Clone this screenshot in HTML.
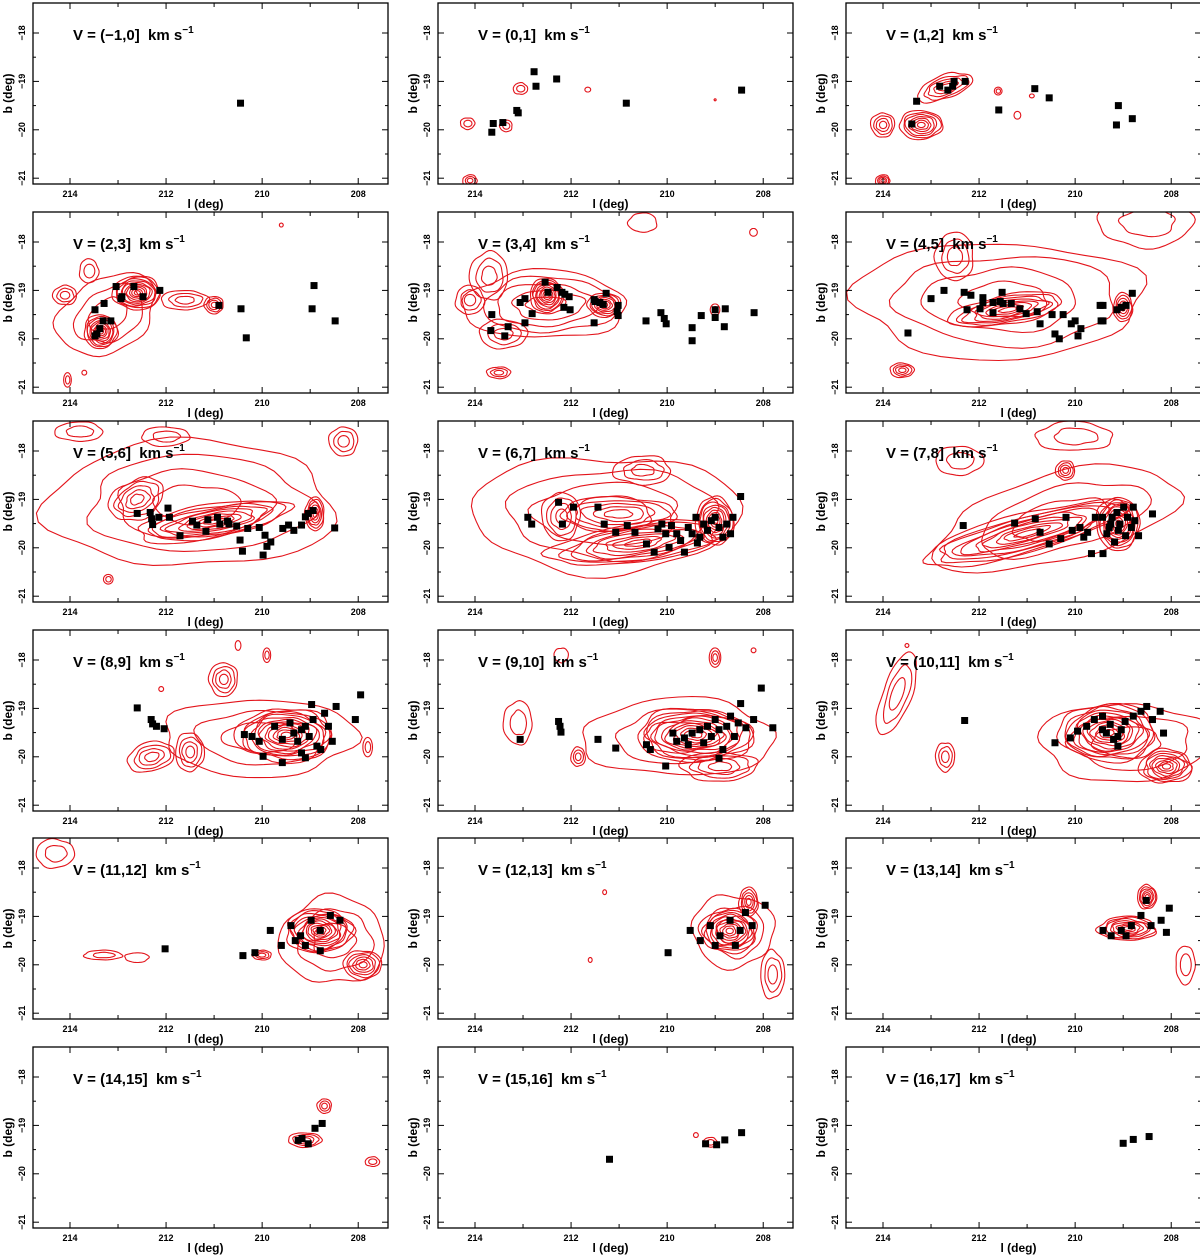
<!DOCTYPE html>
<html><head><meta charset="utf-8">
<style>
html,body{margin:0;padding:0;background:#fff;}
svg{display:block;font-family:"Liberation Sans",Arial,sans-serif;}
</style></head>
<body>
<svg id="chart" width="1200" height="1256" viewBox="0 0 1200 1256" xmlns="http://www.w3.org/2000/svg"></svg>
<script>
// ---- data ----
const titles = ["(\u22121,0]","(0,1]","(1,2]","(2,3]","(3,4]","(4,5]","(5,6]","(6,7]","(7,8]","(8,9]","(9,10]","(10,11]","(11,12]","(12,13]","(13,14]","(14,15]","(15,16]","(16,17]"];
const lTicks = [214,212,210,208];
const bTicks = [-18,-19,-20,-21];
// sources [l,b]
const src0 = [[210.45,-19.45]];
const src1 = [[213.65,-20.05],[213.62,-19.87],[213.42,-19.85],[213.13,-19.6],[213.1,-19.65],[212.77,-18.8],[212.73,-19.1],[212.3,-18.95],[210.85,-19.45],[208.45,-19.18]];
const src2 = [[213.4,-19.88],[213.3,-19.41],[212.82,-19.1],[212.65,-19.18],[212.55,-19.1],[212.52,-19.0],[212.29,-19.0],[211.59,-19.59],[210.84,-19.15],[210.54,-19.34],[209.1,-19.5],[209.14,-19.9],[208.81,-19.77]];
const src3 = [[213.04,-18.92],[212.67,-18.92],[213.29,-19.27],[212.94,-19.17],[212.92,-19.13],[212.48,-19.13],[212.13,-19.0],[213.48,-19.4],[213.31,-19.63],[213.15,-19.63],[213.38,-19.79],[213.44,-19.9],[213.48,-19.94],[210.9,-19.31],[210.44,-19.38],[210.33,-19.98],[208.92,-18.9],[208.96,-19.38],[208.48,-19.63]];
const src4 = [[212.54,-18.83],[212.48,-19.04],[212.29,-18.94],[212.19,-19.04],[212.13,-19.08],[212.04,-19.13],[213.06,-19.25],[212.96,-19.17],[212.81,-19.48],[212.15,-19.35],[212.02,-19.4],[211.52,-19.19],[211.5,-19.23],[211.4,-19.25],[211.27,-19.06],[211.33,-19.29],[211.02,-19.31],[211.04,-19.44],[211.02,-19.52],[211.52,-19.67],[213.65,-19.5],[213.67,-19.83],[213.38,-19.94],[213.31,-19.75],[212.96,-19.67],[210.44,-19.63],[210.13,-19.46],[210.06,-19.58],[210.02,-19.69],[209.48,-19.77],[209.48,-20.04],[209.29,-19.52],[209.0,-19.4],[209.0,-19.56],[208.81,-19.75],[208.79,-19.38],[208.19,-19.46]];
const src5 = [[213.48,-19.88],[213.0,-19.17],[212.73,-19.0],[212.31,-19.04],[212.17,-19.1],[211.92,-19.15],[211.92,-19.25],[211.71,-19.25],[211.52,-19.04],[211.56,-19.23],[211.5,-19.27],[212.25,-19.4],[211.98,-19.38],[211.71,-19.46],[211.33,-19.27],[211.15,-19.38],[211.02,-19.48],[210.79,-19.44],[210.73,-19.69],[210.48,-19.5],[210.25,-19.5],[210.0,-19.63],[210.42,-19.9],[210.33,-20.0],[209.88,-19.79],[209.94,-19.94],[209.46,-19.63],[209.48,-19.31],[209.42,-19.31],[209.42,-19.63],[209.13,-19.4],[209.04,-19.35],[208.94,-19.31],[208.81,-19.06],[210.08,-19.69]];
const src6 = [[212.6,-19.29],[212.33,-19.27],[212.3,-19.4],[212.28,-19.52],[212.15,-19.37],[211.96,-19.18],[211.93,-19.37],[211.71,-19.75],[211.45,-19.45],[211.36,-19.53],[211.17,-19.66],[211.13,-19.42],[210.93,-19.37],[210.88,-19.51],[210.72,-19.45],[210.69,-19.51],[210.53,-19.55],[210.46,-19.84],[210.41,-20.07],[210.3,-19.6],[210.06,-19.58],[209.94,-19.74],[209.9,-19.97],[209.98,-20.15],[209.82,-19.88],[209.57,-19.6],[209.45,-19.53],[209.34,-19.64],[209.18,-19.53],[209.1,-19.36],[209.04,-19.29],[208.94,-19.23],[208.49,-19.59]];
const src7 = [[212.9,-19.37],[212.82,-19.51],[212.26,-19.06],[212.18,-19.51],[211.95,-19.16],[211.44,-19.16],[211.31,-19.51],[211.07,-19.68],[210.83,-19.54],[210.67,-19.68],[210.43,-19.92],[210.27,-20.09],[210.19,-19.61],[210.11,-19.51],[210.03,-19.71],[209.96,-19.99],[209.91,-19.54],[209.8,-19.71],[209.72,-19.85],[209.64,-20.09],[209.56,-19.58],[209.48,-19.71],[209.4,-19.37],[209.32,-19.78],[209.24,-19.51],[209.16,-19.64],[209.08,-19.44],[209.0,-19.37],[208.92,-19.58],[208.84,-19.78],[208.76,-19.51],[208.68,-19.71],[208.63,-19.37],[208.47,-18.94],[209.37,-19.9]];
const src8 = [[212.33,-19.54],[211.26,-19.49],[210.83,-19.4],[210.73,-19.68],[210.54,-19.92],[210.3,-19.81],[210.19,-19.37],[210.06,-19.64],[209.9,-19.58],[209.82,-19.78],[209.74,-19.68],[209.66,-20.12],[209.58,-19.37],[209.42,-20.12],[209.34,-19.71],[209.29,-19.58],[209.23,-19.37],[209.18,-19.88],[209.13,-19.27],[209.1,-19.64],[209.07,-19.51],[208.99,-19.16],[208.95,-19.75],[208.91,-19.37],[208.83,-19.58],[208.79,-19.16],[208.76,-19.44],[208.68,-19.75],[208.39,-19.3],[209.43,-19.37],[209.26,-19.51]];
const src9 = [[212.6,-18.99],[212.31,-19.23],[212.28,-19.32],[212.2,-19.37],[212.04,-19.42],[210.37,-19.54],[210.21,-19.58],[210.06,-19.68],[209.98,-19.99],[209.74,-19.37],[209.58,-20.12],[209.42,-19.3],[209.34,-19.51],[209.26,-19.68],[209.18,-19.44],[209.1,-19.37],[209.02,-19.58],[208.94,-19.23],[208.86,-19.78],[208.97,-18.92],[208.78,-19.85],[208.7,-19.1],[208.62,-19.37],[208.54,-19.68],[208.46,-18.96],[208.06,-19.23],[207.95,-18.72],[209.58,-19.64],[209.18,-19.92],[209.1,-20.02]];
const src10 = [[213.06,-19.64],[212.26,-19.27],[212.23,-19.37],[212.21,-19.49],[211.44,-19.64],[211.07,-19.82],[210.43,-19.75],[210.35,-19.85],[210.03,-20.19],[209.88,-19.51],[209.8,-19.68],[209.64,-19.61],[209.48,-19.51],[209.32,-19.44],[209.24,-19.71],[209.16,-19.37],[209.08,-19.58],[209.0,-19.23],[208.92,-19.44],[208.84,-19.85],[208.76,-19.37],[208.68,-19.16],[208.6,-19.58],[208.52,-19.3],[208.47,-18.9],[208.36,-19.4],[208.2,-19.23],[208.04,-18.58],[207.8,-19.4],[209.56,-19.75],[208.92,-20.03]];
const src11 = [[212.3,-19.25],[210.42,-19.71],[210.1,-19.61],[209.95,-19.47],[209.76,-19.37],[209.6,-19.23],[209.43,-19.16],[209.35,-19.51],[209.27,-19.33],[209.2,-19.64],[209.11,-19.78],[209.04,-19.44],[208.96,-19.27],[208.79,-19.16],[208.63,-19.06],[208.51,-18.96],[208.39,-19.23],[208.23,-19.06],[208.16,-19.51],[209.43,-19.44],[209.11,-19.58]];
const src12 = [[212.02,-19.67],[210.4,-19.81],[210.15,-19.75],[209.83,-19.29],[209.6,-19.6],[209.4,-19.19],[209.2,-19.4],[208.98,-19.08],[208.79,-19.29],[208.58,-18.98],[208.38,-19.08],[209.1,-19.6],[208.79,-19.71],[209.31,-19.5]];
const src13 = [[209.98,-19.75],[209.52,-19.29],[209.31,-19.5],[209.1,-19.19],[208.9,-19.4],[208.69,-19.08],[208.48,-19.29],[208.37,-18.92],[208.23,-19.19],[207.96,-18.77],[209.0,-19.6],[208.58,-19.6]];
const src14 = [[209.42,-19.29],[209.25,-19.4],[209.04,-19.29],[208.83,-19.19],[208.63,-18.98],[208.42,-19.19],[208.21,-19.08],[208.04,-18.83],[208.52,-18.67],[208.94,-19.4],[208.1,-19.33]];
const src15 = [[209.17,-19.27],[208.9,-19.06],[208.75,-18.96],[209.04,-19.38],[209.25,-19.31]];
const src16 = [[209.2,-19.38],[208.97,-19.4],[208.8,-19.3],[208.45,-19.15],[211.2,-19.7]];
const src17 = [[209.0,-19.37],[208.79,-19.29],[208.46,-19.23]];
// contour blobs [l, b, radius-l (deg), radius-b (deg), levels, tilt]
const blob0 = [];
const blob1 = [[214.15,-19.87,0.15,0.12,2,0],[213.35,-19.92,0.13,0.12,2,0],[213.05,-19.15,0.15,0.12,2,0],[211.65,-19.17,0.06,0.05,1,0],[209.0,-19.38,0.02,0.02,1,0],[214.1,-21.05,0.15,0.12,3,0]];
const blob2 = [[212.7,-19.12,0.6,0.24,5,-20],[213.2,-19.9,0.45,0.3,7,0],[214.0,-19.9,0.25,0.25,4,0],[214.0,-21.05,0.15,0.12,4,0],[211.6,-19.2,0.08,0.08,2,0],[211.2,-19.7,0.07,0.08,1,0],[210.9,-19.3,0.05,0.04,1,0]];
const blob3 = [[213.2,-19.5,1.1,0.75,3,-30],[212.6,-19.05,0.5,0.35,10,0],[213.35,-19.85,0.35,0.35,9,-30],[211.6,-19.2,0.5,0.2,3,0],[211.0,-19.3,0.2,0.18,4,0],[214.1,-19.1,0.25,0.2,3,0],[213.6,-18.6,0.2,0.25,2,0],[214.05,-20.85,0.08,0.15,2,0],[213.7,-20.7,0.05,0.05,1,0],[209.6,-17.65,0.04,0.04,1,0]];
const blob4 = [[212.5,-19.3,1.7,0.7,5,0],[212.5,-19.1,0.35,0.35,9,0],[211.3,-19.3,0.35,0.25,7,0],[213.7,-18.7,0.4,0.5,3,0],[214.1,-19.2,0.3,0.3,3,0],[213.4,-19.9,0.5,0.3,3,0],[213.5,-20.7,0.25,0.12,3,0],[210.5,-17.6,0.3,0.2,1,0],[208.2,-17.8,0.08,0.08,1,0],[209.0,-19.4,0.1,0.12,2,0]];
const blob5 = [[211.5,-19.2,3.0,1.2,4,0],[211.4,-19.4,1.2,0.3,8,-10],[209.0,-19.35,0.2,0.3,5,0],[213.6,-20.65,0.25,0.15,4,0],[208.5,-17.6,1.0,0.5,2,0],[212.5,-18.3,0.4,0.5,3,0]];
const blob6 = [[211.4,-19.1,3.0,1.3,4,0],[211.0,-19.45,1.6,0.35,9,-10],[212.6,-19.0,0.6,0.4,5,-25],[208.9,-19.3,0.2,0.35,6,0],[213.2,-20.65,0.1,0.1,2,0],[212.0,-17.7,0.5,0.2,2,0],[208.3,-17.8,0.3,0.3,3,0],[213.8,-17.6,0.5,0.2,2,0]];
const blob7 = [[211.2,-19.3,2.8,1.2,4,0],[210.6,-19.9,1.8,0.4,8,-8],[209.0,-19.45,0.4,0.5,9,0],[211.0,-19.3,1.2,0.35,5,0],[212.2,-19.35,0.4,0.5,4,0],[210.5,-18.4,0.6,0.3,3,0]];
const blob8 = [[210.3,-19.4,2.6,0.9,3,-15],[211.0,-19.7,2.2,0.4,10,-15],[209.1,-19.5,0.45,0.55,10,0],[210.2,-18.4,0.2,0.2,4,0],[210.0,-17.7,0.8,0.3,2,0],[212.4,-18.2,0.5,0.3,2,0]];
const blob9 = [[210.0,-19.6,2.0,0.8,3,0],[209.5,-19.55,1.0,0.55,12,0],[212.3,-20.0,0.5,0.3,4,-15],[211.5,-19.9,0.3,0.4,4,0],[210.8,-18.4,0.3,0.35,4,0],[210.5,-17.7,0.06,0.1,1,0],[209.9,-17.9,0.08,0.15,2,0],[207.8,-19.8,0.1,0.2,2,0],[212.1,-18.6,0.05,0.05,1,0]];
const blob10 = [[209.7,-19.6,2.0,0.8,3,0],[209.4,-19.55,1.2,0.55,12,0],[208.9,-20.2,0.8,0.3,4,0],[213.1,-19.3,0.3,0.45,2,0],[211.85,-20.0,0.15,0.2,3,0],[209.0,-17.95,0.12,0.2,3,0],[212.2,-17.9,0.15,0.15,1,0],[208.2,-17.8,0.05,0.05,1,0]];
const blob11 = [[208.9,-19.7,1.8,0.8,3,0],[209.3,-19.5,1.0,0.6,12,0],[208.1,-20.2,0.55,0.35,8,0],[213.7,-18.7,0.3,0.9,3,20],[212.7,-20.0,0.2,0.3,3,0],[213.5,-17.7,0.04,0.04,1,0]];
const blob12 = [[208.5,-19.5,1.1,0.9,3,0],[208.8,-19.3,0.7,0.45,12,0],[207.9,-20.0,0.4,0.3,6,0],[210.0,-19.8,0.2,0.1,3,0],[213.3,-19.8,0.4,0.1,2,0],[214.3,-17.7,0.4,0.3,2,0],[212.6,-19.85,0.25,0.1,1,0]];
const blob13 = [[208.6,-19.3,0.85,0.75,3,0],[208.7,-19.3,0.6,0.45,10,0],[208.3,-18.7,0.2,0.3,5,0],[207.8,-20.2,0.25,0.5,3,0],[211.3,-18.5,0.04,0.05,1,0],[211.6,-19.9,0.04,0.05,1,0]];
const blob14 = [[208.9,-19.25,0.6,0.25,8,0],[208.5,-18.6,0.2,0.25,6,0],[207.7,-20.0,0.2,0.4,2,0]];
const blob15 = [[209.1,-19.3,0.35,0.15,4,0],[208.7,-18.6,0.15,0.15,3,0],[207.7,-19.75,0.15,0.1,2,0]];
const blob16 = [[209.1,-19.35,0.15,0.1,2,0],[209.4,-19.2,0.05,0.05,1,0]];
const blob17 = [];
const sources = [src0,src1,src2,src3,src4,src5,src6,src7,src8,src9,src10,src11,src12,src13,src14,src15,src16,src17];
const blobs = [blob0,blob1,blob2,blob3,blob4,blob5,blob6,blob7,blob8,blob9,blob10,blob11,blob12,blob13,blob14,blob15,blob16,blob17];

// ---- drawing ----
const NS = "http://www.w3.org/2000/svg";
const svg = document.getElementById("chart");
const colX = [33,438,846], rowY = [3,212,421,630,838,1047];
const PW = 355, PH = 181;
const L0 = 214.77, L1 = 207.38, B0 = -17.38, B1 = -21.12;
function mk(tag, attrs, parent){const e=document.createElementNS(NS,tag);for(const k in attrs)e.setAttribute(k,attrs[k]);(parent||svg).appendChild(e);return e;}
function wobblyPath(cx,cy,rx,ry,ang,seed,amp){
  const a=ang*Math.PI/180, ca=Math.cos(a), sa=Math.sin(a);
  let d="";
  const N=48;
  for(let j=0;j<=N;j++){
    const t=j/N*2*Math.PI;
    const m=1+amp*(0.6*Math.sin(3*t+seed)+0.4*Math.sin(5*t+2.3*seed)+0.3*Math.sin(7*t+seed*0.7));
    const ex=rx*m*Math.cos(t), ey=ry*m*Math.sin(t);
    const x=cx+ex*ca-ey*sa, y=cy+ex*sa+ey*ca;
    d+=(j?"L":"M")+x.toFixed(1)+" "+y.toFixed(1);
  }
  return d+"Z";
}

titles.forEach((t,i)=>{
  const px = colX[i%3], py = rowY[Math.floor(i/3)];
  const sx = l => px + (L0-l)/(L0-L1)*PW;
  const sy = b => py + (B0-b)/(B0-B1)*PH;
  const kx = PW/(L0-L1), ky = PH/(B0-B1);
  const g = mk("g",{});
  
  
  const cp = mk("clipPath",{id:"cp"+i},g);
  mk("rect",{x:px,y:py,width:PW,height:PH},cp);
  const cg = mk("g",{"clip-path":"url(#cp"+i+")"},g);
  
  
  blobs[i].forEach((bl,bi)=>{
    const [l,b,rl,rb,n,ang] = bl;
    const cx = sx(l), cy = sy(b);
    const big = rl*kx > 25;
    for(let k=0;k<n;k++){
      const f = 1 - k/(n+0.3);
      const rx=Math.max(rl*kx*f,1), ry=Math.max(rb*ky*f,1);
      const amp = (rx>6)? (big?0.09:0.06) : 0;
      const e = mk("path",{d:wobblyPath(cx+(k%2?1:-1)*rx*0.03,cy,rx,ry,ang,i*3.1+bi*1.7+k*0.9,amp),fill:"none",stroke:"#e3141b","stroke-width":1.1},cg);
      
      
    }
  });
  sources[i].forEach(s=>{
    const r = mk("rect",{x:sx(s[0])-3.5,y:sy(s[1])-3.5,width:7,height:7,fill:"#000"},cg);
    
    
  });
  const fr = mk("rect",{x:px,y:py,width:PW,height:PH,fill:"none",stroke:"#000","stroke-width":1.3},g);
  
  
  for(let l=208;l<=214;l++){
    const x=sx(l), len=(l%2===0)?6:4;
    mk("line",{x1:x,y1:py+PH,x2:x,y2:py+PH-len,stroke:"#000"},g);
    mk("line",{x1:x,y1:py,x2:x,y2:py+len,stroke:"#000"},g);
  }
  for(let b=-21;b<=-18;b+=0.5){
    const y=sy(b), len=(b%1===0)?6:3;
    mk("line",{x1:px,y1:y,x2:px+len,y2:y,stroke:"#000"},g);
    mk("line",{x1:px+PW,y1:y,x2:px+PW-len,y2:y,stroke:"#000"},g);
  }
  lTicks.forEach(l=>{
    const tx = mk("text",{x:sx(l),y:py+PH+13,"font-size":9,"font-weight":"bold","text-anchor":"middle"},g);
    tx.textContent=l;
    
    
  });
  bTicks.forEach(b=>{
    const x=px-8, y=sy(b);
    const tx = mk("text",{x:x,y:y,"font-size":9,"font-weight":"bold","text-anchor":"middle",transform:"rotate(-90 "+x+" "+y+")"},g);
    tx.textContent="\u2212"+(-b);
    
    
  });
  const xt = mk("text",{x:px+PW/2-5,y:py+PH+24,"font-size":12,"font-weight":"bold","text-anchor":"middle"},g);
  xt.textContent="l (deg)";
  
  
  const yx=px-21, yy=py+PH/2;
  const yt = mk("text",{x:yx,y:yy,"font-size":12,"font-weight":"bold","text-anchor":"middle",transform:"rotate(-90 "+yx+" "+yy+")"},g);
  yt.textContent="b (deg)";
  
  
  const tt = mk("text",{x:px+40,y:py+37,"font-size":15,"font-weight":"bold","xml:space":"preserve"},g);
  
  
  tt.style.whiteSpace="pre";
  tt.appendChild(document.createTextNode("V = "+t+"  km s"));
  const sup = mk("tspan",{"font-size":10,dy:-7},tt);
  sup.textContent="\u22121";
});
</script>
</body></html>
